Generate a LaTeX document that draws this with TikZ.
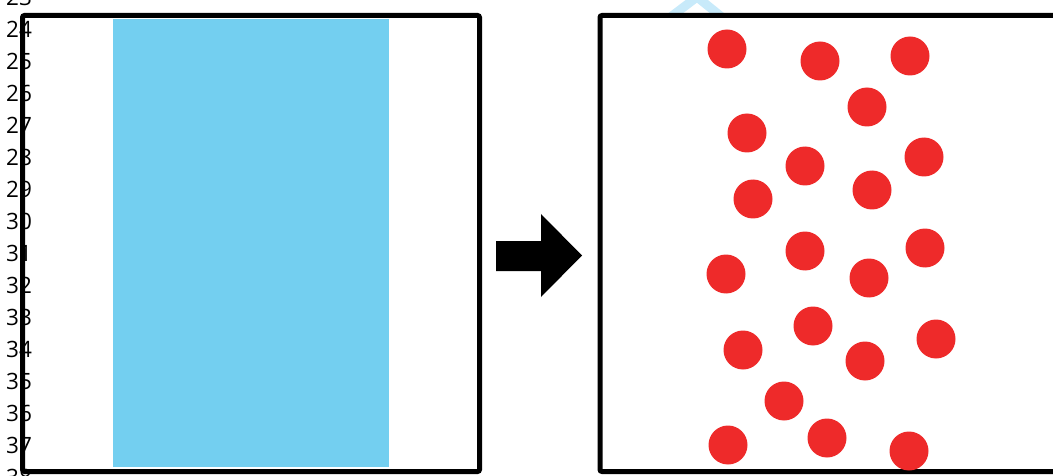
\documentclass[tikz,border=0pt]{standalone}
\usepackage{fontspec}
\setmainfont{Open Sans}
\definecolor{fillblue}{RGB}{115,207,240}
\definecolor{dotred}{RGB}{238,42,42}
\definecolor{wmblue}{RGB}{200,234,250}
\tikzset{
  frame/.style={draw=black,line width=5pt,rounded corners=2pt},
  dot/.style={fill=dotred},
  linenum/.style={font=\fontsize{22.5}{22.5}\selectfont,text=black,inner sep=0pt,anchor=center}
}
\begin{document}
\begin{tikzpicture}[x=1pt,y=-1pt]
\useasboundingbox (0,0) rectangle (1053,476);
% line numbers
\foreach \n [count=\i from 0] in {23,...,38}{
  \node[linenum] (ln\n) at (19,{-2.5+32*\i}) {\n};
}
% faint watermark chevron
\begin{scope}
\clip (600,-5) rectangle (800,15);
\draw[wmblue,line width=9pt] (664,22) -- (697,-3) -- (728,22);
\end{scope}
% left panel
\fill[fillblue] (113,19) rectangle (389,467);
\draw[frame] (22.5,15.5) rectangle (479.5,471.5);
% arrow
\fill[black] (496,241) -- (541,241) -- (541,214) -- (582,255.5) -- (541,297) -- (541,271) -- (496,271) -- cycle;
% right panel
\draw[frame] (1060,15.5) -- (600,15.5) -- (600,471.5) -- (1060,471.5);
\foreach \x/\y in {727/49,820/61,910/56,867/107,747/133,805/166,924/157,753/199,872/190,805/251,925/248,726/274,869/278,813/326,936/339,743/350,865/361,784/401,827/438,728/445,909/451}{
  \fill[dot] (\x,\y) circle (19.5);
}
\end{tikzpicture}
\end{document}
